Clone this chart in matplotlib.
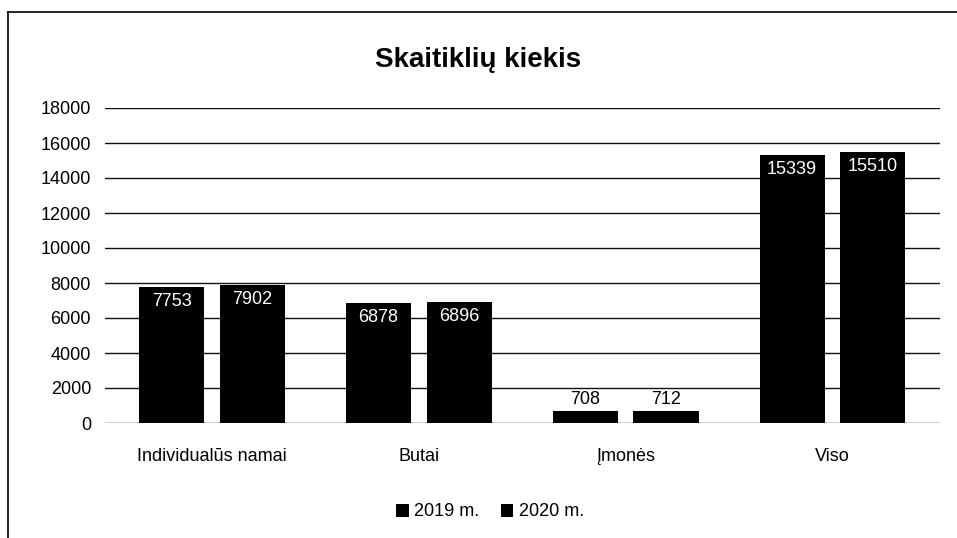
import matplotlib.pyplot as plt
import numpy as np
from matplotlib.lines import Line2D

plt.rcParams["font.family"] = ["Liberation Sans", "DejaVu Sans"]

# Data
categories = ["Individualūs namai", "Butai", "Įmonės", "Viso"]
series_names = ["2019 m.", "2020 m."]
values_2019 = [7753, 6878, 708, 15339]
values_2020 = [7902, 6896, 712, 15510]
yticks = [0, 2000, 4000, 6000, 8000, 10000, 12000, 14000, 16000, 18000]

W, H = 957, 538
fig = plt.figure(figsize=(W / 100, H / 100), dpi=100)
ax = fig.add_axes([105 / W, 1 - 423 / H, 835 / W, 315 / H])

x = np.arange(len(categories))
width = 0.315
offset = 0.195
for vals, dx, name in [(values_2019, -offset, series_names[0]),
                       (values_2020, offset, series_names[1])]:
    bars = ax.bar(x + dx, vals, width, color="black", label=name, zorder=3)
    for b, v in zip(bars, vals):
        cx = b.get_x() + b.get_width() / 2
        if v > 2000:
            ax.text(cx, v - 350, str(v), ha="center", va="top",
                    color="white", fontsize=13, zorder=4)
        else:
            ax.text(cx, v + 150, str(v), ha="center", va="bottom",
                    color="black", fontsize=13, zorder=4)

ax.set_xlim(-0.518, 3.52)
ax.set_ylim(0, 18000)
ax.set_yticks(yticks)
ax.set_yticklabels([str(t) for t in yticks], fontsize=13)
ax.set_xticks(x)
ax.set_xticklabels(categories, fontsize=13)
ax.tick_params(axis="y", length=0, pad=10)
ax.tick_params(axis="x", length=0, pad=18)
ax.grid(axis="y", color="#111111", linewidth=1.0, zorder=0)
for s in ax.spines.values():
    s.set_visible(False)

fig.text(0.5, 1 - 60 / H, "Skaitiklių kiekis", ha="center", va="center",
         fontsize=20, fontweight="bold")

fig.legend(loc="center", bbox_to_anchor=(490 / W, 1 - 512 / H), ncol=2,
           frameon=False, fontsize=13, handlelength=0.7, handleheight=0.7,
           columnspacing=1.2, handletextpad=0.3)

# chart frame (left and top edges visible)
fig.add_artist(Line2D([8 / W, 8 / W], [0, 1 - 12 / H], color="black", lw=1.2))
fig.add_artist(Line2D([8 / W, 1], [1 - 12 / H, 1 - 12 / H], color="black", lw=1.2))

fig.savefig("out.png", dpi=100)
